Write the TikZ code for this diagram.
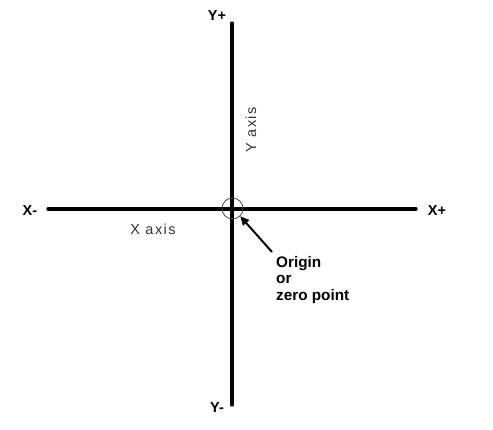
\documentclass[tikz,border=0pt]{standalone}
\usepackage{fontspec}
\setmainfont{Liberation Sans}
\newfontfamily\spacedfont[LetterSpace=10]{Liberation Sans}
\usetikzlibrary{arrows.meta}
\begin{document}
\begin{tikzpicture}[x=1pt,y=-1pt,
  axis/.style={line width=3.2pt,line cap=round},
  lbl/.style={font=\bfseries\fontsize{14.5}{16}\selectfont,inner sep=0pt},
  axlbl/.style={font=\spacedfont\fontsize{14.5}{16}\selectfont,inner sep=0pt,text=black!80}]
\useasboundingbox (0,0) rectangle (493,429);
\coordinate (xl) at (48,209);
\coordinate (xr) at (416,209);
\coordinate (yt) at (232,23);
\coordinate (yb) at (232,405);
\coordinate (o) at (232.5,208.5);
\draw[axis] (xl) -- (xr);
\draw[axis] (yt) -- (yb);
\node[draw=black!70,line width=0.8pt,circle,minimum size=21pt,inner sep=0pt] (oc) at (o) {};
\node[lbl] (xm) at (30,211) {X-};
\node[lbl] (xp) at (437,211) {X+};
\node[lbl] (yp) at (217,16) {Y+};
\node[lbl] (ym) at (217,408) {Y-};
\node[axlbl] (xa) at (153,229) {X axis};
\node[axlbl,rotate=90] (ya) at (251,130) {Y axis};
\node[lbl,align=left,anchor=north west,font=\bfseries\fontsize{15.3}{16.5}\selectfont] (ot) at (276,256) {Origin\\or\\zero point};
\coordinate (as) at (272,252);
\draw[line width=2pt,-{Triangle[length=9pt,width=8pt]}] (as) -- (oc.-45);
\end{tikzpicture}
\end{document}
